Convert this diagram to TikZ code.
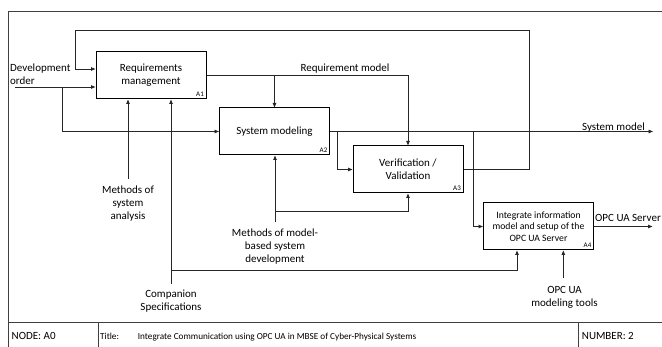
\documentclass[tikz,border=0pt]{standalone}
\usepackage{fontspec}
\setmainfont{Carlito}
\usetikzlibrary{arrows.meta}
\begin{document}
\begin{tikzpicture}[x=1pt,y=-1pt,
  frame/.style={line width=0.8pt, draw=black!75},
  ln/.style={line width=0.9pt, draw=black!85},
  arr/.style={ln,-{Triangle[length=4.5pt,width=3.5pt]}},
  proc/.style={draw=black, line width=1pt, minimum width=110pt, minimum height=47pt,
    inner sep=0pt, align=center, font=\fontsize{11}{13}\selectfont},
  lbl/.style={align=center, font=\fontsize{11}{13}\selectfont, inner sep=0pt},
  small/.style={font=\fontsize{9.2}{10}\selectfont, inner sep=0pt},
  tag/.style={font=\fontsize{7}{8}\selectfont, inner sep=2.5pt, anchor=south east}]
\useasboundingbox (0,0) rectangle (662,347);

% frame
\draw[frame] (8,347) -- (8,11) -- (662,11);
\draw[frame] (8,322.5) -- (662,322.5);
\draw[frame] (98.3,322.5) -- (98.3,347);
\draw[frame] (578.3,322.5) -- (578.3,347);

% activities
\node[proc] (A1) at (151,75.5) {Requirements\\management};
\node[proc] (A2) at (274.5,131.5) {System modeling};
\node[proc] (A3) at (408,169.5) {Verification /\\Validation};
\node[proc, font=\fontsize{9.7}{11.7}\selectfont] (A4) at (538.5,226.5)
  {Integrate information\\model and setup of the\\OPC UA Server};
\node[tag] (t1) at (A1.south east) {A1};
\node[tag] (t2) at (A2.south east) {A2};
\node[tag] (t3) at (A3.south east) {A3};
\node[tag] (t4) at (A4.south east) {A4};

% feedback loop
\coordinate (fb1) at (529,30);
\coordinate (fb2) at (75,69);
\draw[arr] (A3.east) -| (fb1) -| (fb2) -- (A1.west |- fb2);

% development order (base = baseline of last line)
\node[lbl, align=left, anchor=base west] (devl) at (10,85) {Development\\order};
\coordinate (dev) at (15,87);
\coordinate (devb) at (62,87);
\draw[arr] (dev) -- (A1.west |- dev);
\draw[arr] (devb) |- (A2.west);

% requirement model
\draw[arr] (A1.east) -| (A3.north);
\draw[arr] (A2.north |- A1.east) -- (A2.north);
\node[lbl, anchor=base] (rml) at (345,72) {Requirement model};

% system model
\coordinate (smout) at (653,131.5);
\coordinate (s1) at (337,131.5);
\coordinate (s2) at (473,131.5);
\draw[arr] (A2.east) -- (smout);
\draw[arr] (s1) |- (A3.west);
\draw[arr] (s2) |- (A4.west);
\node[lbl, anchor=base] (sml) at (613.5,130.3) {System model};

% OPC UA server output
\coordinate (opcout) at (652.5,226.5);
\draw[arr] (A4.east) -- (opcout);
\node[lbl, anchor=base west] (osl) at (595,221.5) {OPC UA Server};

% controls / mechanisms
\coordinate (c1) at (128,179);
\draw[arr] (c1) -- (c1 |- A1.south);
\node[lbl, anchor=base] (c1l) at (128,220) {Methods of\\system\\analysis};

\coordinate (c2) at (171,284);
\coordinate (c2b) at (171,270);
\coordinate (c2c) at (517,270);
\draw[arr] (c2) -- (c2 |- A1.south);
\draw[arr] (c2b) -- (c2c) -- (c2c |- A4.south);
\node[lbl, anchor=base] (c2l) at (171,311) {Companion\\Specifications};

\coordinate (c3) at (275,221.7);
\coordinate (c3b) at (275,211.7);
\draw[arr] (c3) -- (c3 |- A2.south);
\draw[arr] (c3b) -| (A3.south);
\node[lbl, anchor=base] (c3l) at (275,262.5) {Methods of model-\\based system\\development};

\coordinate (c4) at (563.3,278);
\draw[arr] (c4) -- (c4 |- A4.south);
\node[lbl, anchor=base] (c4l) at (564.5,306.7) {OPC UA\\modeling tools};

% footer
\node[lbl, anchor=base west] (node) at (11.5,340) {NODE: A0};
\node[small, anchor=base west] (title) at (100,340) {Title:};
\node[small, anchor=base west] (ttext) at (137.7,340) {Integrate Communication using OPC UA in MBSE of Cyber-Physical Systems};
\node[lbl, anchor=base west] (num) at (581.7,340) {NUMBER: 2};
\end{tikzpicture}
\end{document}
